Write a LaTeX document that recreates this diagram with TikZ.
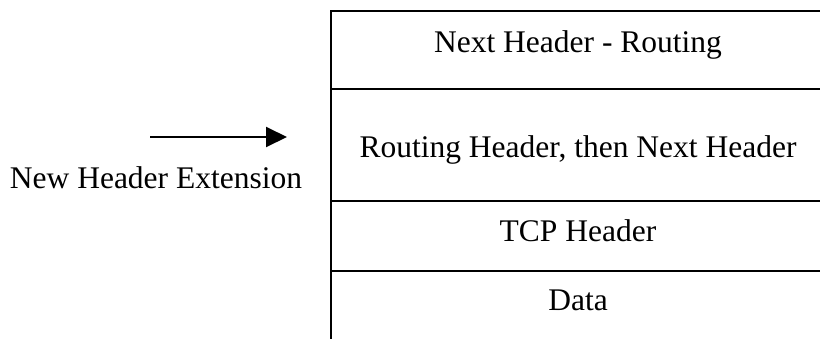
\documentclass[tikz,border=0pt]{standalone}
\usepackage{fontspec}
\setmainfont{Liberation Serif}
\usetikzlibrary{arrows.meta}
\tikzset{
  rule/.style={line width=2pt, line cap=rect},
  label/.style={inner sep=0pt, anchor=base, font=\fontsize{31.5}{36}\selectfont},
  pointer/.style={line width=2pt, -{Triangle[length=21pt,width=20pt]}}
}
\begin{document}
\begin{tikzpicture}[x=1pt,y=-1pt]
  \useasboundingbox (0,0) rectangle (820,338);
  % packet stack: open on the right and at the bottom
  \draw[rule] (331,11) -- (820,11);
  \draw[rule] (331,89) -- (820,89);
  \draw[rule] (331,200.5) -- (820,200.5);
  \draw[rule] (331,270.5) -- (820,270.5);
  \draw[rule] (331,11) -- (331,340);
  % layer labels
  \node[label] (nh)   at (578,52)  {Next Header - Routing};
  \node[label] (rh)   at (578,157) {Routing Header, then Next Header};
  \node[label] (tcp)  at (578,241) {TCP Header};
  \node[label] (data) at (578,310) {Data};
  % inserted extension header
  \coordinate (from) at (150,137);
  \coordinate (to) at (287,137);
  \draw[pointer] (from) -- (to);
  \node[label] (ext) at (156,188) {New Header Extension};
\end{tikzpicture}
\end{document}
